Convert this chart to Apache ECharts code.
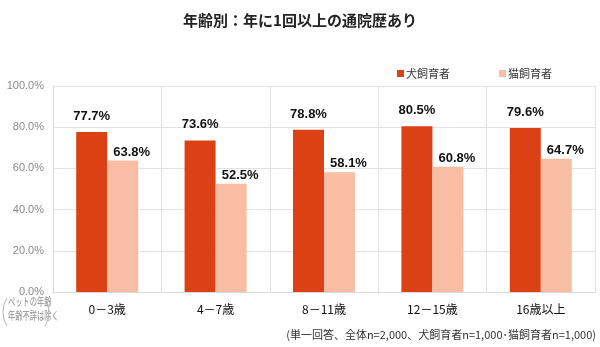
<!DOCTYPE html>
<html><head><meta charset="utf-8">
<script src="https://cdn.jsdelivr.net/npm/echarts@6/dist/echarts.min.js"></script>
<style>html,body{margin:0;padding:0;background:#fff}#c{width:600px;height:347px}</style>
</head><body><div id="c"></div>
<script>
var categories = ['0－3歳', '4－7歳', '8－11歳', '12－15歳', '16歳以上'];
var seriesNames = ['犬飼育者', '猫飼育者'];
var dogValues = [77.7, 73.6, 78.8, 80.5, 79.6];
var catValues = [63.8, 52.5, 58.1, 60.8, 64.7];
var yTicks = [0, 20, 40, 60, 80, 100];
var titleText = '年齢別：年に1回以上の通院歴あり';
var noteLines = ['ペットの年齢', '年齢不詳は除く'];
var footText = '(単一回答、全体n=2,000、犬飼育者n=1,000･猫飼育者n=1,000)';

var FONT = '"Noto Sans CJK JP", "Noto Sans", sans-serif';
var chart = echarts.init(document.getElementById('c'), null, {renderer: 'canvas'});
chart.setOption({
  animation: false,
  textStyle: {fontFamily: FONT},
  title: {text: titleText, left: 'center', top: 8,
    textStyle: {fontSize: 15, fontWeight: 'bold', color: '#222', fontFamily: FONT}},
  legend: {data: seriesNames, left: 392, top: 63, icon: 'rect', itemWidth: 7, itemHeight: 7,
    itemGap: 49, textStyle: {fontSize: 11, color: '#333', fontFamily: FONT, padding: [0,0,0,-3]}},
  grid: {left: 53, right: 5, top: 86, bottom: 55},
  xAxis: {type: 'category', data: categories,
    axisLine: {lineStyle: {color: '#d9d9d9'}}, axisTick: {show: false},
    splitLine: {show: true, lineStyle: {color: '#e3e3e3'}},
    axisLabel: {fontSize: 12, color: '#111', margin: 11, fontFamily: FONT}},
  yAxis: {type: 'value', min: yTicks[0], max: yTicks[yTicks.length-1], interval: 20,
    axisLine: {show: true, lineStyle: {color: '#d9d9d9'}}, axisTick: {show: false},
    splitLine: {lineStyle: {color: '#e3e3e3'}},
    axisLabel: {fontSize: 11, color: '#8a8a8a', margin: 9, fontFamily: 'Liberation Sans, Arial, sans-serif',
      formatter: function(v){ return v.toFixed(1) + '%'; }}},
  series: [
    {name: seriesNames[0], type: 'bar', data: dogValues, barWidth: 31, barGap: '0%',
      itemStyle: {color: '#DB4115'},
      label: {show: true, position: 'top', distance: 9, fontSize: 13, fontWeight: 'bold', color: '#111',
        fontFamily: 'Liberation Sans, Arial, sans-serif', formatter: function(p){ return p.value.toFixed(1) + '%'; }}},
    {name: seriesNames[1], type: 'bar', data: catValues, barWidth: 31,
      itemStyle: {color: '#F8BDA2'},
      label: {show: true, position: 'top', distance: 2, offset: [9, 0], fontSize: 13, fontWeight: 'bold', color: '#111',
        fontFamily: 'Liberation Sans, Arial, sans-serif', formatter: function(p){ return p.value.toFixed(1) + '%'; }}}
  ],
  graphic: [
    {type: 'text', x: 8, y: 296, scaleX: 0.66, style: {text: noteLines[0], font: '11px ' + FONT, fill: '#8c8c8c'}},
    {type: 'text', x: 8, y: 310, scaleX: 0.66, style: {text: noteLines[1], font: '11px ' + FONT, fill: '#8c8c8c'}},
    {type: 'arc', shape: {cx: 30, cy: 312, r: 27, startAngle: Math.PI - 0.55, endAngle: Math.PI + 0.55},
      style: {stroke: '#b5b5b5', lineWidth: 1, fill: null}},
    {type: 'arc', shape: {cx: 22, cy: 312, r: 27, startAngle: -0.55, endAngle: 0.55},
      style: {stroke: '#b5b5b5', lineWidth: 1, fill: null}},
    {type: 'text', right: 4, top: 329, style: {text: footText, font: '11px ' + FONT, fill: '#333'}}
  ]
});
</script></body></html>
